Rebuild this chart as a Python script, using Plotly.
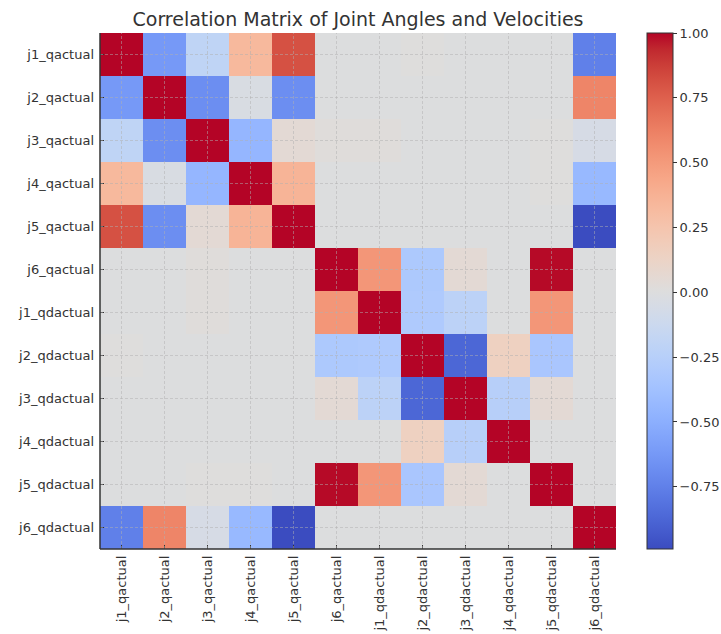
import plotly.graph_objects as go

# Joint signal names (rows and columns of the correlation matrix)
labels = [
    "j1_qactual", "j2_qactual", "j3_qactual", "j4_qactual", "j5_qactual", "j6_qactual",
    "j1_qdactual", "j2_qdactual", "j3_qdactual", "j4_qdactual", "j5_qdactual", "j6_qdactual",
]

# Pearson correlation coefficients, one row per signal
row_j1_q  = [1.00, -0.62, -0.20, 0.33, 0.81, 0.00, 0.00, 0.01, 0.00, 0.00, 0.00, -0.75]
row_j2_q  = [-0.62, 1.00, -0.68, -0.03, -0.68, 0.00, 0.00, 0.00, 0.00, 0.00, 0.00, 0.60]
row_j3_q  = [-0.20, -0.68, 1.00, -0.45, 0.05, 0.02, 0.02, 0.00, 0.00, 0.00, 0.01, -0.05]
row_j4_q  = [0.33, -0.03, -0.45, 1.00, 0.36, 0.00, 0.00, 0.00, 0.00, 0.00, 0.01, -0.43]
row_j5_q  = [0.81, -0.68, 0.05, 0.36, 1.00, 0.00, 0.00, 0.00, 0.00, 0.00, 0.00, -0.99]
row_j6_q  = [0.00, 0.00, 0.02, 0.00, 0.00, 1.00, 0.52, -0.31, 0.05, 0.00, 0.99, 0.00]
row_j1_qd = [0.00, 0.00, 0.02, 0.00, 0.00, 0.52, 1.00, -0.30, -0.22, 0.00, 0.52, 0.00]
row_j2_qd = [0.01, 0.00, 0.00, 0.00, 0.00, -0.31, -0.30, 1.00, -0.87, 0.15, -0.33, 0.00]
row_j3_qd = [0.00, 0.00, 0.00, 0.00, 0.00, 0.05, -0.22, -0.87, 1.00, -0.25, 0.05, 0.00]
row_j4_qd = [0.00, 0.00, 0.00, 0.00, 0.00, 0.00, 0.00, 0.15, -0.25, 1.00, 0.00, 0.00]
row_j5_qd = [0.00, 0.00, 0.01, 0.01, 0.00, 0.99, 0.52, -0.33, 0.05, 0.00, 1.00, 0.00]
row_j6_qd = [-0.75, 0.60, -0.05, -0.43, -0.99, 0.00, 0.00, 0.00, 0.00, 0.00, 0.00, 1.00]

corr = [row_j1_q, row_j2_q, row_j3_q, row_j4_q, row_j5_q, row_j6_q,
        row_j1_qd, row_j2_qd, row_j3_qd, row_j4_qd, row_j5_qd, row_j6_qd]

colorbar_ticks = [1.00, 0.75, 0.50, 0.25, 0.00, -0.25, -0.50, -0.75]

# Diverging cool-warm palette (Moreland)
cw_rgb = [
    (59, 76, 192), (68, 90, 204), (77, 104, 215), (87, 117, 225), (98, 130, 234),
    (108, 142, 241), (119, 154, 247), (130, 165, 251), (141, 176, 254), (152, 185, 255),
    (163, 194, 255), (174, 201, 253), (184, 208, 249), (194, 213, 244), (204, 217, 238),
    (213, 219, 230), (221, 221, 221), (229, 216, 209), (236, 211, 197), (241, 204, 185),
    (245, 196, 173), (247, 187, 160), (247, 177, 148), (247, 166, 135), (244, 154, 123),
    (241, 141, 111), (236, 127, 99), (229, 112, 88), (222, 96, 77), (213, 80, 66),
    (203, 62, 56), (192, 40, 47), (180, 4, 38),
]
n = len(cw_rgb) - 1
coolwarm = [[i / n, "rgb(%d,%d,%d)" % c] for i, c in enumerate(cw_rgb)]

zmin = min(min(r) for r in corr)
zmax = max(max(r) for r in corr)

text_color = "#333333"
font_family = "DejaVu Sans, Liberation Sans, sans-serif"

fig = go.Figure(
    go.Heatmap(
        z=corr,
        x=labels,
        y=labels,
        colorscale=coolwarm,
        zmin=zmin,
        zmax=zmax,
        colorbar=dict(
            x=1.06,
            xanchor="left",
            xpad=0,
            y=0.5,
            yanchor="middle",
            ypad=0,
            len=1.0,
            lenmode="fraction",
            thickness=26,
            thicknessmode="pixels",
            outlinewidth=1,
            outlinecolor="#333333",
            tickvals=colorbar_ticks,
            tickformat=".2f",
            ticks="outside",
            ticklen=4,
            tickwidth=1,
            tickcolor="#333333",
            tickfont=dict(size=13, color=text_color, family=font_family),
        ),
        hovertemplate="%{y} / %{x}: %{z:.2f}<extra></extra>",
    )
)

# Dashed grid lines drawn over the cells at every category position
grid_style = dict(color="rgba(175,175,175,0.5)", width=1, dash="3px,2px")
shapes = []
for i in range(len(labels)):
    shapes.append(dict(type="line", xref="x", yref="paper", x0=i, x1=i, y0=0, y1=1,
                       line=grid_style, layer="above"))
    shapes.append(dict(type="line", xref="paper", yref="y", x0=0, x1=1, y0=i, y1=i,
                       line=grid_style, layer="above"))
# Left and bottom spines
shapes.append(dict(type="line", xref="paper", yref="paper", x0=0, x1=0, y0=0, y1=1,
                   line=dict(color="#333333", width=1.5), layer="above"))
shapes.append(dict(type="line", xref="paper", yref="paper", x0=0, x1=1, y0=0, y1=0,
                   line=dict(color="#333333", width=1.5), layer="above"))

fig.update_layout(
    width=721,
    height=634,
    autosize=False,
    margin=dict(l=100, r=105, t=33, b=85, autoexpand=False),
    paper_bgcolor="white",
    plot_bgcolor="white",
    font=dict(family=font_family, color=text_color),
    title=dict(
        text="Correlation Matrix of Joint Angles and Velocities",
        x=0.5,
        xref="paper",
        xanchor="center",
        y=1 - 19 / 634,
        yref="container",
        yanchor="middle",
        font=dict(size=19, color=text_color, family=font_family),
    ),
    shapes=shapes,
    xaxis=dict(
        tickangle=-90,
        tickfont=dict(size=13, color=text_color),
        ticks="inside",
        ticklen=4,
        tickcolor="#333333",
        ticklabelstandoff=3,
        showgrid=False,
        zeroline=False,
        showline=False,
        layer="above traces",
    ),
    yaxis=dict(
        autorange="reversed",
        tickfont=dict(size=13, color=text_color),
        ticks="inside",
        ticklen=4,
        tickcolor="#333333",
        ticklabelstandoff=5,
        showgrid=False,
        zeroline=False,
        showline=False,
        layer="above traces",
    ),
)

fig.write_html("out.html")
